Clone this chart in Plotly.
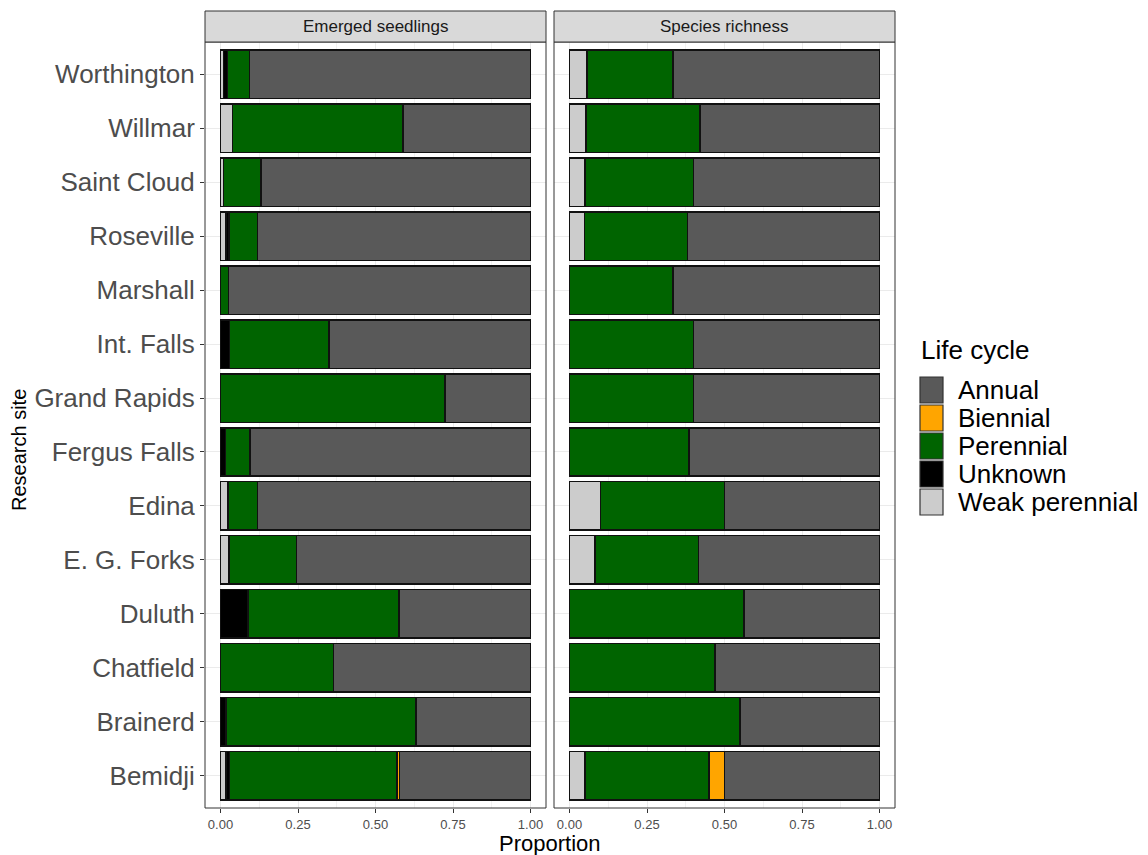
import plotly.graph_objects as go

# Research sites, listed top to bottom as they appear on the chart
sites = ["Worthington", "Willmar", "Saint Cloud", "Roseville", "Marshall",
         "Int. Falls", "Grand Rapids", "Fergus Falls", "Edina", "E. G. Forks",
         "Duluth", "Chatfield", "Brainerd", "Bemidji"]

panels = ["Emerged seedlings", "Species richness"]

# Life-cycle proportions per site: emerged seedlings
seed_weak = [0.010, 0.039, 0.010, 0.017, 0.0, 0.0, 0.0, 0.0, 0.025, 0.028, 0.0, 0.0, 0.0, 0.017]
seed_unknown = [0.012, 0.0, 0.0, 0.011, 0.0, 0.029, 0.0, 0.016, 0.0, 0.0, 0.088, 0.0, 0.018, 0.012]
seed_perennial = [0.071, 0.549, 0.120, 0.091, 0.026, 0.321, 0.725, 0.079, 0.094, 0.217, 0.487, 0.364, 0.612, 0.541]
seed_biennial = [0.0, 0.0, 0.0, 0.0, 0.0, 0.0, 0.0, 0.0, 0.0, 0.0, 0.0, 0.0, 0.0, 0.008]
seed_annual = [0.907, 0.412, 0.870, 0.881, 0.974, 0.650, 0.275, 0.905, 0.881, 0.755, 0.425, 0.636, 0.370, 0.422]

# Life-cycle proportions per site: species richness
rich_weak = [0.056, 0.053, 0.050, 0.048, 0.0, 0.0, 0.0, 0.0, 0.100, 0.083, 0.0, 0.0, 0.0, 0.050]
rich_unknown = [0.0] * 14
rich_perennial = [0.278, 0.368, 0.350, 0.333, 0.333, 0.400, 0.400, 0.385, 0.400, 0.333, 0.5625, 0.470, 0.550, 0.400]
rich_biennial = [0.0, 0.0, 0.0, 0.0, 0.0, 0.0, 0.0, 0.0, 0.0, 0.0, 0.0, 0.0, 0.0, 0.050]
rich_annual = [0.666, 0.579, 0.600, 0.619, 0.667, 0.600, 0.600, 0.615, 0.500, 0.584, 0.4375, 0.530, 0.450, 0.500]

x_ticks = [0, 0.25, 0.5, 0.75, 1.0]
x_tick_text = ["0.00", "0.25", "0.50", "0.75", "1.00"]

# Stacking order from left to right, with fill colours
stack_order = ["Weak perennial", "Unknown", "Perennial", "Biennial", "Annual"]
colors = {
    "Annual": "#595959",
    "Biennial": "#FFA500",
    "Perennial": "#006400",
    "Unknown": "#000000",
    "Weak perennial": "#CCCCCC",
}
legend_order = ["Annual", "Biennial", "Perennial", "Unknown", "Weak perennial"]

panel_data = [
    {"Weak perennial": seed_weak, "Unknown": seed_unknown, "Perennial": seed_perennial,
     "Biennial": seed_biennial, "Annual": seed_annual},
    {"Weak perennial": rich_weak, "Unknown": rich_unknown, "Perennial": rich_perennial,
     "Biennial": rich_biennial, "Annual": rich_annual},
]

W, H = 1148, 855


def fx(px):
    return px / W


def fy(py):
    return 1 - py / H


fig = go.Figure()

for i, data in enumerate(panel_data):
    xa = "x" if i == 0 else "x2"
    ya = "y" if i == 0 else "y2"
    for name in stack_order:
        vals = [v if v > 0 else None for v in data[name]]
        fig.add_trace(go.Bar(
            x=vals, y=sites, orientation="h", name=name,
            marker=dict(color=colors[name], line=dict(color="#111111", width=1.6)),
            width=0.9, xaxis=xa, yaxis=ya, showlegend=False,
            hovertemplate="%{y}: %{x:.3f}<extra>" + name + "</extra>",
        ))

panel_x = [(205, 546), (554, 895)]
panel_top, panel_bottom = 42, 808
strip_top = 11

axis_common = dict(
    range=[-0.05, 1.05], tickvals=x_ticks, ticktext=x_tick_text,
    ticks="outside", ticklen=4, tickcolor="#333333",
    tickfont=dict(family="Liberation Sans, Arial", size=13, color="#4D4D4D"),
    showgrid=True, gridcolor="#EBEBEB", gridwidth=1,
    minor=dict(tickvals=[0.125, 0.375, 0.625, 0.875], showgrid=True,
               gridcolor="#F2F2F2", gridwidth=0.6),
    zeroline=False, showline=False, fixedrange=True,
)

cat_array = list(reversed(sites))
yaxis_common = dict(
    type="category", categoryorder="array", categoryarray=cat_array,
    range=[-0.6, 13.6], domain=[fy(panel_bottom), fy(panel_top)],
    showgrid=True, gridcolor="#EBEBEB", gridwidth=1,
    zeroline=False, showline=False, fixedrange=True,
)

fig.update_layout(
    width=W, height=H,
    margin=dict(l=0, r=0, t=0, b=0),
    paper_bgcolor="white", plot_bgcolor="white",
    barmode="stack", bargap=0.1,
    showlegend=False,
    font=dict(family="Liberation Sans, Arial, sans-serif"),
    xaxis=dict(domain=[fx(panel_x[0][0]), fx(panel_x[0][1])], anchor="y", **axis_common),
    xaxis2=dict(domain=[fx(panel_x[1][0]), fx(panel_x[1][1])], anchor="y2", **axis_common),
    yaxis=dict(anchor="x", ticks="outside", ticklen=4, tickcolor="#333333",
               tickfont=dict(family="Liberation Sans, Arial", size=26, color="#4D4D4D"),
               **yaxis_common),
    yaxis2=dict(anchor="x2", matches="y", showticklabels=False, ticks="", **yaxis_common),
)

shapes = []
annotations = []

# Panel borders and facet strips
for i, (x0, x1) in enumerate(panel_x):
    shapes.append(dict(type="rect", xref="paper", yref="paper",
                       x0=fx(x0), x1=fx(x1), y0=fy(panel_bottom), y1=fy(panel_top),
                       line=dict(color="#333333", width=1), fillcolor="rgba(0,0,0,0)",
                       layer="above"))
    shapes.append(dict(type="rect", xref="paper", yref="paper",
                       x0=fx(x0), x1=fx(x1), y0=fy(panel_top), y1=fy(strip_top),
                       line=dict(color="#333333", width=1), fillcolor="#D9D9D9"))
    annotations.append(dict(text=panels[i], xref="paper", yref="paper",
                            x=fx((x0 + x1) / 2), y=fy((strip_top + panel_top) / 2),
                            showarrow=False, xanchor="center", yanchor="middle",
                            font=dict(size=17, color="#1A1A1A")))

# Axis titles
annotations.append(dict(text="Proportion", xref="paper", yref="paper",
                        x=fx(550), y=fy(843), showarrow=False,
                        xanchor="center", yanchor="middle",
                        font=dict(size=22, color="#000000")))
annotations.append(dict(text="Research site", xref="paper", yref="paper",
                        x=fx(19), y=fy(450), showarrow=False, textangle=-90,
                        xanchor="center", yanchor="middle",
                        font=dict(size=20, color="#000000")))

# Legend: title, colour keys and labels
annotations.append(dict(text="Life cycle", xref="paper", yref="paper",
                        x=fx(919), y=fy(350), showarrow=False,
                        xanchor="left", yanchor="middle",
                        font=dict(size=26, color="#000000")))
key_pitch = 28
key_first = 390
for k, name in enumerate(legend_order):
    cy = key_first + k * key_pitch
    shapes.append(dict(type="rect", xref="paper", yref="paper",
                       x0=fx(920), x1=fx(943), y0=fy(cy + 13), y1=fy(cy - 13),
                       line=dict(color="#333333", width=1.2), fillcolor=colors[name]))
    annotations.append(dict(text=name, xref="paper", yref="paper",
                            x=fx(956), y=fy(cy), showarrow=False,
                            xanchor="left", yanchor="middle",
                            font=dict(size=26, color="#000000")))

fig.update_layout(shapes=shapes, annotations=annotations)

fig.write_html("out.html")
